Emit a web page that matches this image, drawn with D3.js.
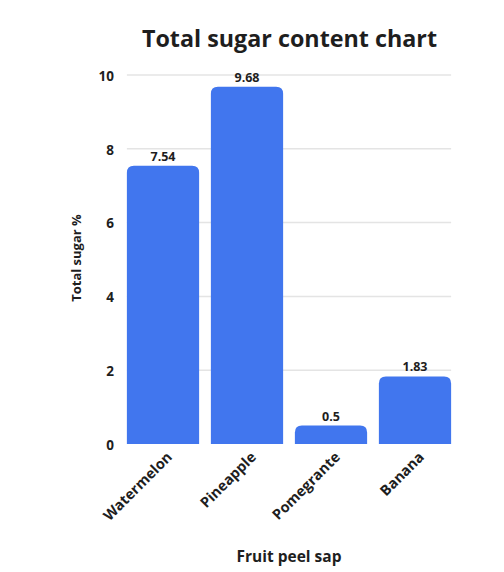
<!DOCTYPE html>
<html><head><meta charset="utf-8">
<script src="https://cdn.jsdelivr.net/npm/d3@7"></script>
<style>body{margin:0;background:#fff;} text{font-family:"Open Sans",sans-serif;font-weight:700;fill:#1e1e1e;}</style>
</head><body>
<svg id="c" width="504" height="572"></svg>
<script>
const categories = ["Watermelon","Pineapple","Pomegrante","Banana"];
const values = [7.54, 9.68, 0.5, 1.83];
const yTicks = [0,2,4,6,8,10];
const title = "Total sugar content chart";
const xTitle = "Fruit peel sap";
const yTitle = "Total sugar %";

const svg = d3.select("#c");
const x = d3.scaleBand().domain(categories).range([121,457]).paddingInner(0.14).paddingOuter(0.07);
const y = d3.scaleLinear().domain([0,10]).range([444,75]);

// gridlines
svg.append("g").selectAll("line").data(yTicks.filter(d=>d>0)).join("line")
  .attr("x1", x(categories[0])).attr("x2", x(categories[categories.length-1])+x.bandwidth())
  .attr("y1", d=>y(d)).attr("y2", d=>y(d))
  .attr("stroke","#e4e4e4").attr("stroke-width",1.5);

// y tick labels
svg.append("g").selectAll("text").data(yTicks).join("text")
  .attr("x",114).attr("y",d=>y(d)+1).attr("dy","0.35em").attr("text-anchor","end")
  .attr("font-size",13.5).text(d=>d);

// bars with rounded top corners
const r = 7;
function barPath(x0,w,yt,yb){
  const rr = Math.min(r, (yb-yt), w/2);
  return `M${x0},${yb}V${yt+rr}Q${x0},${yt} ${x0+rr},${yt}H${x0+w-rr}Q${x0+w},${yt} ${x0+w},${yt+rr}V${yb}Z`;
}
svg.append("g").selectAll("path").data(categories).join("path")
  .attr("d",(d,i)=>barPath(x(d), x.bandwidth(), y(values[i]), y(0)))
  .attr("fill","#4176EE");

// value labels
svg.append("g").selectAll("text").data(categories).join("text")
  .attr("x",d=>x(d)+x.bandwidth()/2).attr("y",(d,i)=>y(values[i])-5)
  .attr("text-anchor","middle").attr("font-size",12.5).text((d,i)=>values[i]);

// x labels rotated
svg.append("g").selectAll("text").data(categories).join("text")
  .attr("transform",d=>`translate(${x(d)+x.bandwidth()/2+10},${458}) rotate(-45)`)
  .attr("text-anchor","end").attr("font-size",14.5).text(d=>d);

// titles
svg.append("text").attr("x",289.5).attr("y",47).attr("text-anchor","middle").attr("font-size",23.3).text(title);
svg.append("text").attr("x",289).attr("y",562).attr("text-anchor","middle").attr("font-size",15.5).text(xTitle);
svg.append("text").attr("transform","translate(81,258) rotate(-90)").attr("text-anchor","middle").attr("font-size",13).text(yTitle);
</script>
</body></html>
